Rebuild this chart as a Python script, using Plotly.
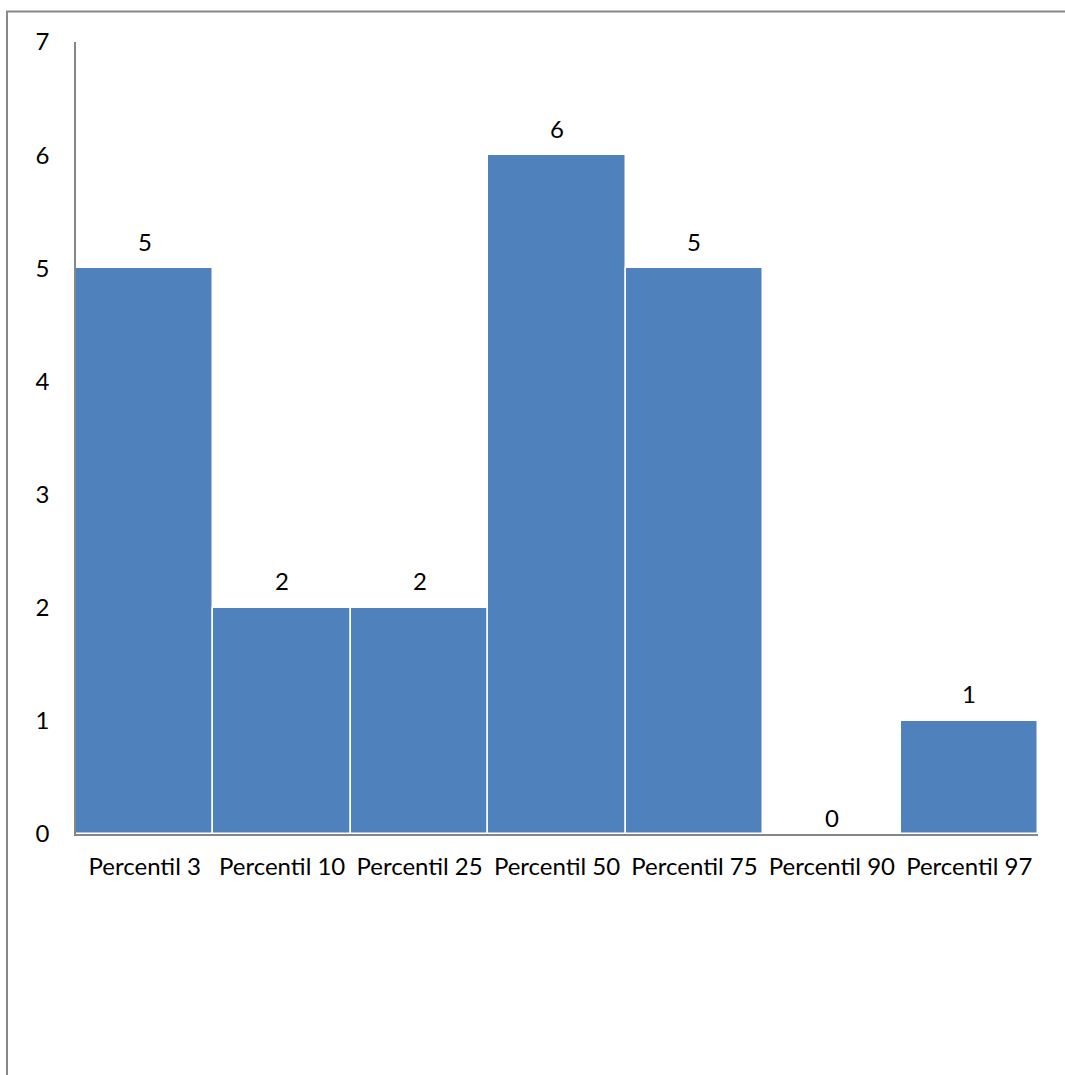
import plotly.graph_objects as go

# Count of cases per percentile band
categories = ["Percentil 3", "Percentil 10", "Percentil 25", "Percentil 50",
              "Percentil 75", "Percentil 90", "Percentil 97"]
counts = [5, 2, 2, 6, 5, 0, 1]
y_ticks = [0, 1, 2, 3, 4, 5, 6, 7]

FONT = "Lato, Carlito, 'Open Sans', sans-serif"
FS = 24
BAR_COLOR = "#4F81BD"
AXIS_COLOR = "#868686"

fig = go.Figure(
    go.Bar(
        x=categories,
        y=counts,
        marker=dict(color=BAR_COLOR, line=dict(color="white", width=1.5)),
        hoverinfo="x+y",
    )
)

# Value labels above each bar
for cat, val in zip(categories, counts):
    fig.add_annotation(
        x=cat, y=val, text=str(val), showarrow=False,
        yanchor="middle", yshift=27 if val > 0 else 17,
        font=dict(family=FONT, size=FS, color="black"),
    )

# Outer frame of the chart area
W, H = 1065, 1075
ml, mr, mt, mb = 76, 27, 42, 241
pw, ph = W - ml - mr, H - mt - mb
fig.add_shape(
    type="rect", xref="paper", yref="paper",
    x0=(7 - ml) / pw, x1=(W + 10 - ml) / pw,
    y0=-(H + 10 - (H - mb)) / ph, y1=1 + (mt - 11.5) / ph,
    line=dict(color="#898989", width=2), fillcolor="rgba(0,0,0,0)",
    layer="below",
)

fig.update_layout(
    width=W, height=H,
    margin=dict(l=ml, r=mr, t=mt, b=mb, autoexpand=False),
    paper_bgcolor="white", plot_bgcolor="white",
    bargap=0, showlegend=False,
    font=dict(family=FONT, size=FS, color="black"),
)
fig.update_xaxes(
    showline=True, linecolor=AXIS_COLOR, linewidth=1.5,
    showgrid=False, ticks="", tickfont=dict(size=FS), ticklabelstandoff=10,
)
fig.update_yaxes(
    range=[0, 7], tickvals=y_ticks, showline=True, linecolor=AXIS_COLOR,
    linewidth=1.5, showgrid=False, zeroline=False, ticks="",
    tickfont=dict(size=FS), ticklabelstandoff=20,
)

fig.write_html("out.html")
